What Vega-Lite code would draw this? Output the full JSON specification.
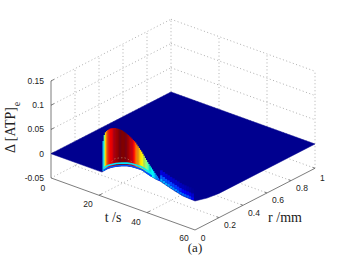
{"$schema":"https://vega.github.io/schema/vega-lite/v6.json","width":347,"height":259,"padding":0,"autosize":{"type":"none"},"background":"white","config":{"view":{"stroke":null}},
"data":{"values":[
{"kind":"grid","id":1,"t":0,"r":0.2,"z":-0.05},{"kind":"grid","id":1,"t":0,"r":0.2,"z":0.15},
{"kind":"grid","id":2,"t":0,"r":0.4,"z":-0.05},{"kind":"grid","id":2,"t":0,"r":0.4,"z":0.15},
{"kind":"grid","id":3,"t":0,"r":0.6,"z":-0.05},{"kind":"grid","id":3,"t":0,"r":0.6,"z":0.15},
{"kind":"grid","id":4,"t":0,"r":0.8,"z":-0.05},{"kind":"grid","id":4,"t":0,"r":0.8,"z":0.15},
{"kind":"grid","id":5,"t":0,"r":1,"z":-0.05},{"kind":"grid","id":5,"t":0,"r":1,"z":0.15},
{"kind":"grid","id":6,"t":0,"r":0,"z":-0.05},{"kind":"grid","id":6,"t":0,"r":1,"z":-0.05},
{"kind":"grid","id":7,"t":0,"r":0,"z":0},{"kind":"grid","id":7,"t":0,"r":1,"z":0},
{"kind":"grid","id":8,"t":0,"r":0,"z":0.05},{"kind":"grid","id":8,"t":0,"r":1,"z":0.05},
{"kind":"grid","id":9,"t":0,"r":0,"z":0.1},{"kind":"grid","id":9,"t":0,"r":1,"z":0.1},
{"kind":"grid","id":10,"t":0,"r":0,"z":0.15},{"kind":"grid","id":10,"t":0,"r":1,"z":0.15},
{"kind":"grid","id":11,"t":20,"r":1,"z":-0.05},{"kind":"grid","id":11,"t":20,"r":1,"z":0.15},
{"kind":"grid","id":12,"t":40,"r":1,"z":-0.05},{"kind":"grid","id":12,"t":40,"r":1,"z":0.15},
{"kind":"grid","id":13,"t":60,"r":1,"z":-0.05},{"kind":"grid","id":13,"t":60,"r":1,"z":0.15},
{"kind":"grid","id":14,"t":0,"r":1,"z":-0.05},{"kind":"grid","id":14,"t":60,"r":1,"z":-0.05},
{"kind":"grid","id":15,"t":0,"r":1,"z":0},{"kind":"grid","id":15,"t":60,"r":1,"z":0},
{"kind":"grid","id":16,"t":0,"r":1,"z":0.05},{"kind":"grid","id":16,"t":60,"r":1,"z":0.05},
{"kind":"grid","id":17,"t":0,"r":1,"z":0.1},{"kind":"grid","id":17,"t":60,"r":1,"z":0.1},
{"kind":"grid","id":18,"t":0,"r":1,"z":0.15},{"kind":"grid","id":18,"t":60,"r":1,"z":0.15},
{"kind":"grid","id":19,"t":20,"r":0,"z":-0.05},{"kind":"grid","id":19,"t":20,"r":1,"z":-0.05},
{"kind":"grid","id":20,"t":40,"r":0,"z":-0.05},{"kind":"grid","id":20,"t":40,"r":1,"z":-0.05},
{"kind":"grid","id":21,"t":0,"r":0.2,"z":-0.05},{"kind":"grid","id":21,"t":60,"r":0.2,"z":-0.05},
{"kind":"grid","id":22,"t":0,"r":0.4,"z":-0.05},{"kind":"grid","id":22,"t":60,"r":0.4,"z":-0.05},
{"kind":"grid","id":23,"t":0,"r":0.6,"z":-0.05},{"kind":"grid","id":23,"t":60,"r":0.6,"z":-0.05},
{"kind":"grid","id":24,"t":0,"r":0.8,"z":-0.05},{"kind":"grid","id":24,"t":60,"r":0.8,"z":-0.05},
{"kind":"axis","id":1,"t":0,"r":0,"z":-0.05},{"kind":"axis","id":1,"t":0,"r":0,"z":0.15},
{"kind":"axis","id":2,"t":0,"r":0,"z":-0.05},{"kind":"axis","id":2,"t":60,"r":0,"z":-0.05},
{"kind":"axis","id":3,"t":60,"r":0,"z":-0.05},{"kind":"axis","id":3,"t":60,"r":1,"z":-0.05},
{"kind":"axis","id":4,"t":0,"r":0,"z":0.15},{"kind":"axis","id":4,"t":0,"r":0.025,"z":0.15},
{"kind":"axis","id":5,"t":0,"r":0,"z":0.1},{"kind":"axis","id":5,"t":0,"r":0.025,"z":0.1},
{"kind":"axis","id":6,"t":0,"r":0,"z":0.05},{"kind":"axis","id":6,"t":0,"r":0.025,"z":0.05},
{"kind":"axis","id":7,"t":0,"r":0,"z":0},{"kind":"axis","id":7,"t":0,"r":0.025,"z":0},
{"kind":"axis","id":8,"t":20,"r":0,"z":-0.05},{"kind":"axis","id":8,"t":20,"r":0.025,"z":-0.05},
{"kind":"axis","id":9,"t":40,"r":0,"z":-0.05},{"kind":"axis","id":9,"t":40,"r":0.025,"z":-0.05},
{"kind":"axis","id":10,"t":60,"r":0.2,"z":-0.05},{"kind":"axis","id":10,"t":59,"r":0.2,"z":-0.05},
{"kind":"axis","id":11,"t":60,"r":0.4,"z":-0.05},{"kind":"axis","id":11,"t":59,"r":0.4,"z":-0.05},
{"kind":"axis","id":12,"t":60,"r":0.6,"z":-0.05},{"kind":"axis","id":12,"t":59,"r":0.6,"z":-0.05},
{"kind":"axis","id":13,"t":60,"r":0.8,"z":-0.05},{"kind":"axis","id":13,"t":59,"r":0.8,"z":-0.05},
{"kind":"axis","id":14,"t":60,"r":1,"z":-0.05},{"kind":"axis","id":14,"t":59,"r":1,"z":-0.05},
{"kind":"sheet","k":1,"t":0,"r":0,"z":0},{"kind":"sheet","k":2,"t":0,"r":1,"z":0},{"kind":"sheet","k":3,"t":60,"r":1,"z":0},{"kind":"sheet","k":4,"t":60,"r":0.2,"z":0},{"kind":"sheet","k":5,"t":60,"r":0.1,"z":0.003},{"kind":"sheet","k":6,"t":60,"r":0.05,"z":0.0065},{"kind":"sheet","k":7,"t":60,"r":0,"z":0.0097},{"kind":"sheet","k":8,"t":55,"r":0,"z":0.0111},{"kind":"sheet","k":9,"t":50.96,"r":0,"z":0.0163},{"kind":"sheet","k":10,"t":45.4,"r":0,"z":0.0249},{"kind":"sheet","k":11,"t":43.75,"r":0,"z":0.0254},{"kind":"sheet","k":12,"t":42,"r":0,"z":0.0276},{"kind":"sheet","k":13,"t":40,"r":0,"z":0.0307},{"kind":"sheet","k":14,"t":37.8,"r":0,"z":0.034},{"kind":"sheet","k":15,"t":35.4,"r":0,"z":0.0338},{"kind":"sheet","k":16,"t":33.6,"r":0,"z":0.0332},{"kind":"sheet","k":17,"t":31.7,"r":0,"z":0.0313},{"kind":"sheet","k":18,"t":29.5,"r":0,"z":0.0274},{"kind":"sheet","k":19,"t":27.1,"r":0,"z":0.0221},{"kind":"sheet","k":20,"t":25.3,"r":0,"z":0.0171},{"kind":"sheet","k":21,"t":23.75,"r":0,"z":0.012},{"kind":"sheet","k":22,"t":22.5,"r":0,"z":0.0066},{"kind":"sheet","k":23,"t":21.25,"r":0,"z":0},{"kind":"sheet","k":24,"t":0,"r":0,"z":0},
{"kind":"hump","t":21.75,"z":0.0651,"z2":0.003,"c":0.028},{"kind":"hump","t":22.25,"z":0.0783,"z2":0.0055,"c":0.05},{"kind":"hump","t":22.75,"z":0.0848,"z2":0.0076,"c":0.07},{"kind":"hump","t":23.25,"z":0.0884,"z2":0.0098,"c":0.079},{"kind":"hump","t":23.75,"z":0.0913,"z2":0.012,"c":0.084},{"kind":"hump","t":24.25,"z":0.0938,"z2":0.0136,"c":0.087},{"kind":"hump","t":24.75,"z":0.0961,"z2":0.0155,"c":0.089},{"kind":"hump","t":25.25,"z":0.0975,"z2":0.017,"c":0.09},{"kind":"hump","t":25.75,"z":0.0986,"z2":0.0184,"c":0.091},{"kind":"hump","t":26.25,"z":0.1,"z2":0.0198,"c":0.093},{"kind":"hump","t":26.75,"z":0.1008,"z2":0.0212,"c":0.095},{"kind":"hump","t":27.25,"z":0.101,"z2":0.0225,"c":0.097},{"kind":"hump","t":27.75,"z":0.1014,"z2":0.0237,"c":0.098},{"kind":"hump","t":28.25,"z":0.1014,"z2":0.025,"c":0.099},{"kind":"hump","t":28.75,"z":0.1012,"z2":0.0262,"c":0.1},{"kind":"hump","t":29.25,"z":0.101,"z2":0.0268,"c":0.1},{"kind":"hump","t":29.75,"z":0.101,"z2":0.028,"c":0.1},{"kind":"hump","t":30.25,"z":0.1,"z2":0.0287,"c":0.1},{"kind":"hump","t":30.75,"z":0.099,"z2":0.0296,"c":0.1},{"kind":"hump","t":31.25,"z":0.098,"z2":0.0305,"c":0.099},{"kind":"hump","t":31.75,"z":0.0967,"z2":0.0313,"c":0.098},{"kind":"hump","t":32.25,"z":0.0961,"z2":0.032,"c":0.097},{"kind":"hump","t":32.75,"z":0.0944,"z2":0.0325,"c":0.095},{"kind":"hump","t":33.25,"z":0.0928,"z2":0.033,"c":0.093},{"kind":"hump","t":33.75,"z":0.0913,"z2":0.0333,"c":0.091},{"kind":"hump","t":34.25,"z":0.0897,"z2":0.0336,"c":0.089},{"kind":"hump","t":34.75,"z":0.088,"z2":0.0337,"c":0.087},{"kind":"hump","t":35.25,"z":0.086,"z2":0.0338,"c":0.083},{"kind":"hump","t":35.75,"z":0.0831,"z2":0.0338,"c":0.079},{"kind":"hump","t":36.25,"z":0.0802,"z2":0.0339,"c":0.075},{"kind":"hump","t":36.75,"z":0.0775,"z2":0.0339,"c":0.072},{"kind":"hump","t":37.25,"z":0.0746,"z2":0.034,"c":0.068},{"kind":"hump","t":37.75,"z":0.0718,"z2":0.034,"c":0.065},{"kind":"hump","t":38.25,"z":0.0685,"z2":0.0335,"c":0.062},{"kind":"hump","t":38.75,"z":0.065,"z2":0.0325,"c":0.059},{"kind":"hump","t":39.25,"z":0.0614,"z2":0.0315,"c":0.056},{"kind":"hump","t":39.75,"z":0.0581,"z2":0.0308,"c":0.053},{"kind":"hump","t":40.25,"z":0.0546,"z2":0.03,"c":0.05},{"kind":"hump","t":40.75,"z":0.0515,"z2":0.0295,"c":0.047},{"kind":"hump","t":41.25,"z":0.0489,"z2":0.0285,"c":0.044},{"kind":"hump","t":41.75,"z":0.046,"z2":0.028,"c":0.041},{"kind":"hump","t":42.25,"z":0.0431,"z2":0.0273,"c":0.038},{"kind":"hump","t":42.75,"z":0.0404,"z2":0.0268,"c":0.034},{"kind":"hump","t":43.25,"z":0.0375,"z2":0.0262,"c":0.03},{"kind":"hump","t":43.75,"z":0.035,"z2":0.0254,"c":0.026},{"kind":"hump","t":44.25,"z":0.0326,"z2":0.0252,"c":0.022},{"kind":"hump","t":44.75,"z":0.0303,"z2":0.025,"c":0.018},{"kind":"hump","t":45.25,"z":0.0278,"z2":0.025,"c":0.014},
{"kind":"fade","t":46,"z":0.03,"z2":0.0245,"c":0.027},{"kind":"fade","t":47,"z":0.0282,"z2":0.0227,"c":0.026},{"kind":"fade","t":48,"z":0.0265,"z2":0.021,"c":0.025},{"kind":"fade","t":49,"z":0.025,"z2":0.0195,"c":0.024},{"kind":"fade","t":50,"z":0.0235,"z2":0.018,"c":0.023},{"kind":"fade","t":51,"z":0.0222,"z2":0.0167,"c":0.022},{"kind":"fade","t":52,"z":0.021,"z2":0.0155,"c":0.021},{"kind":"fade","t":53,"z":0.0195,"z2":0.014,"c":0.02},{"kind":"fade","t":54,"z":0.0182,"z2":0.0127,"c":0.019},{"kind":"fade","t":55,"z":0.0171,"z2":0.0116,"c":0.018},{"kind":"fade","t":56,"z":0.0168,"z2":0.0113,"c":0.017},{"kind":"fade","t":57,"z":0.0165,"z2":0.011,"c":0.016},{"kind":"fade","t":58,"z":0.0162,"z2":0.0107,"c":0.014},{"kind":"fade","t":59,"z":0.0159,"z2":0.0104,"c":0.012},
{"kind":"fade","t":46,"z":0.038,"z2":0.03,"c":0.017},{"kind":"fade","t":47,"z":0.0362,"z2":0.0282,"c":0.0165},{"kind":"fade","t":48,"z":0.0345,"z2":0.0265,"c":0.016},{"kind":"fade","t":49,"z":0.033,"z2":0.025,"c":0.0155},{"kind":"fade","t":50,"z":0.0315,"z2":0.0235,"c":0.015},{"kind":"fade","t":51,"z":0.0302,"z2":0.0222,"c":0.0145},{"kind":"fade","t":52,"z":0.029,"z2":0.021,"c":0.014},{"kind":"fade","t":53,"z":0.0275,"z2":0.0195,"c":0.0135},{"kind":"fade","t":54,"z":0.0262,"z2":0.0182,"c":0.013},{"kind":"fade","t":55,"z":0.0251,"z2":0.0171,"c":0.0125},{"kind":"fade","t":56,"z":0.0248,"z2":0.0168,"c":0.012},{"kind":"fade","t":57,"z":0.0245,"z2":0.0165,"c":0.0105},{"kind":"fade","t":58,"z":0.0242,"z2":0.0162,"c":0.009},{"kind":"fade","t":59,"z":0.0239,"z2":0.0159,"c":0.007},
{"kind":"fade","t":46,"z":0.048,"z2":0.038,"c":0.009},{"kind":"fade","t":47,"z":0.0462,"z2":0.0362,"c":0.0085},{"kind":"fade","t":48,"z":0.0445,"z2":0.0345,"c":0.008},{"kind":"fade","t":49,"z":0.043,"z2":0.033,"c":0.0075},{"kind":"fade","t":50,"z":0.0415,"z2":0.0315,"c":0.007},{"kind":"fade","t":51,"z":0.0402,"z2":0.0302,"c":0.0065},{"kind":"fade","t":52,"z":0.039,"z2":0.029,"c":0.006},{"kind":"fade","t":53,"z":0.0375,"z2":0.0275,"c":0.0055},{"kind":"fade","t":54,"z":0.0362,"z2":0.0262,"c":0.005},{"kind":"fade","t":55,"z":0.0351,"z2":0.0251,"c":0.0045},{"kind":"fade","t":56,"z":0.0348,"z2":0.0248,"c":0.004},{"kind":"fade","t":57,"z":0.0345,"z2":0.0245,"c":0.003},{"kind":"fade","t":58,"z":0.0342,"z2":0.0242,"c":0.002},{"kind":"fade","t":59,"z":0.0339,"z2":0.0239,"c":0.001},
{"kind":"rim","id":1,"c":0.034,"k":1,"t":21.9,"z":0.0095},{"kind":"rim","id":1,"c":0.034,"k":2,"t":22.5,"z":0.0126},{"kind":"rim","id":1,"c":0.034,"k":3,"t":23.75,"z":0.018},{"kind":"rim","id":1,"c":0.034,"k":4,"t":25.3,"z":0.0231},{"kind":"rim","id":1,"c":0.034,"k":5,"t":27.1,"z":0.0281},{"kind":"rim","id":1,"c":0.034,"k":6,"t":29.5,"z":0.0334},{"kind":"rim","id":1,"c":0.034,"k":7,"t":31.7,"z":0.0373},{"kind":"rim","id":1,"c":0.034,"k":8,"t":33.6,"z":0.0392},{"kind":"rim","id":1,"c":0.034,"k":9,"t":35.4,"z":0.0398},{"kind":"rim","id":1,"c":0.034,"k":10,"t":37.8,"z":0.04},{"kind":"rim","id":1,"c":0.034,"k":11,"t":40,"z":0.0367},{"kind":"rim","id":1,"c":0.034,"k":12,"t":42,"z":0.0336},
{"kind":"rim","id":2,"c":0.016,"k":1,"t":21.9,"z":0.0045},{"kind":"rim","id":2,"c":0.016,"k":2,"t":22.5,"z":0.0076},{"kind":"rim","id":2,"c":0.016,"k":3,"t":23.75,"z":0.013},{"kind":"rim","id":2,"c":0.016,"k":4,"t":25.3,"z":0.0181},{"kind":"rim","id":2,"c":0.016,"k":5,"t":27.1,"z":0.0231},{"kind":"rim","id":2,"c":0.016,"k":6,"t":29.5,"z":0.0284},{"kind":"rim","id":2,"c":0.016,"k":7,"t":31.7,"z":0.0323},{"kind":"rim","id":2,"c":0.016,"k":8,"t":33.6,"z":0.0342},{"kind":"rim","id":2,"c":0.016,"k":9,"t":35.4,"z":0.0348},{"kind":"rim","id":2,"c":0.016,"k":10,"t":37.8,"z":0.035},{"kind":"rim","id":2,"c":0.016,"k":11,"t":40,"z":0.0317},{"kind":"rim","id":2,"c":0.016,"k":12,"t":42,"z":0.0286},
{"kind":"ghost","k":1,"t":25.3,"z":0.0288},{"kind":"ghost","k":2,"t":26.7,"z":0.0375},{"kind":"ghost","k":3,"t":30.1,"z":0.0455},{"kind":"ghost","k":4,"t":33.6,"z":0.0434},{"kind":"ghost","k":5,"t":36,"z":0.036},
{"kind":"zlab","label":"0.15","t":0,"r":0,"z":0.15},{"kind":"zlab","label":"0.1","t":0,"r":0,"z":0.1},{"kind":"zlab","label":"0.05","t":0,"r":0,"z":0.05},{"kind":"zlab","label":"0","t":0,"r":0,"z":0},{"kind":"zlab","label":"-0.05","t":0,"r":0,"z":-0.05},
{"kind":"tlab","label":"0","t":1.2,"r":0,"z":-0.05},{"kind":"tlab","label":"20","t":20,"r":0,"z":-0.05},{"kind":"tlab","label":"40","t":40,"r":0,"z":-0.05},{"kind":"tlab","label":"60","t":60,"r":0,"z":-0.047},
{"kind":"rlab","label":"0","t":60,"r":-0.025,"z":-0.047},{"kind":"rlab","label":"0.2","t":60,"r":0.2,"z":-0.05},{"kind":"rlab","label":"0.4","t":60,"r":0.4,"z":-0.05},{"kind":"rlab","label":"0.6","t":60,"r":0.6,"z":-0.05},{"kind":"rlab","label":"0.8","t":60,"r":0.8,"z":-0.05},{"kind":"rlab","label":"1","t":60,"r":0.97,"z":-0.05},
{"kind":"title","label":"t /s","t":25.83,"r":0,"z":-0.0864},{"kind":"title","label":"r /mm","t":60,"r":0.75,"z":-0.1208},{"kind":"tag","label":"(a)","t":60,"r":0,"z":-0.0865},
{"kind":"ztitle","label":"Δ [ATP]","t":-16.7,"r":0,"z":0.019},{"kind":"zsub","label":"e","t":-14.2,"r":0,"z":0.0771}
]},
"transform":[
{"calculate":"51+2.4*datum.t+120*(datum.r||0)","as":"sx"},
{"calculate":"153.7+0.867*datum.t-61.7*(datum.r||0)-485*datum.z","as":"sy"},
{"calculate":"153.7+0.867*datum.t-61.7*(datum.r||0)-485*datum.z2","as":"sy2"}
],
"encoding":{
"x":{"field":"sx","type":"quantitative","scale":{"domain":[0,347],"range":[0,347]},"axis":null},
"y":{"field":"sy","type":"quantitative","scale":{"domain":[0,259],"range":[0,259]},"axis":null}
},
"layer":[
{"transform":[{"filter":"datum.kind=='grid'"}],"mark":{"type":"line","stroke":"#9a9a9a","strokeWidth":0.8,"strokeDash":[1,2.5]},"encoding":{"detail":{"field":"id"}}},
{"transform":[{"filter":"datum.kind=='axis'"}],"mark":{"type":"line","stroke":"#6e6e6e","strokeWidth":0.9},"encoding":{"detail":{"field":"id"}}},
{"transform":[{"filter":"datum.kind=='sheet'"}],"mark":{"type":"line","stroke":"#00008f","strokeWidth":0.5,"fill":"#00008f"},"encoding":{"order":{"field":"k"}}},
{"transform":[{"filter":"datum.kind=='fade'"}],"mark":{"type":"rule","strokeWidth":2.6},"encoding":{"y2":{"field":"sy2"},"color":{"field":"c","type":"quantitative","legend":null,"scale":{"domain":[0,0.0125,0.0375,0.0625,0.0875,0.1],"range":["#00008f","#0000ff","#00ffff","#ffff00","#ff0000","#800000"],"clamp":true}}}},
{"transform":[{"filter":"datum.kind=='hump'"}],"mark":{"type":"rule","strokeWidth":1.5},"encoding":{"y2":{"field":"sy2"},"color":{"field":"c","type":"quantitative","legend":null}}},
{"transform":[{"filter":"datum.kind=='rim'"}],"mark":{"type":"line","strokeWidth":1.6,"interpolate":"monotone"},"encoding":{"detail":{"field":"id"},"order":{"field":"k"},"color":{"field":"c","type":"quantitative","legend":null}}},
{"transform":[{"filter":"datum.kind=='ghost'"}],"mark":{"type":"line","stroke":"#b58a6e","strokeWidth":0.8,"strokeDash":[1.5,2],"opacity":0.8,"interpolate":"monotone"},"encoding":{"order":{"field":"k"}}},
{"transform":[{"filter":"datum.kind=='zlab'"}],"mark":{"type":"text","font":"Liberation Sans","fontSize":8.5,"align":"right","baseline":"middle","dx":-7,"color":"#222"},"encoding":{"text":{"field":"label"}}},
{"transform":[{"filter":"datum.kind=='tlab'"}],"mark":{"type":"text","font":"Liberation Sans","fontSize":8.5,"align":"center","baseline":"middle","dx":-11,"dy":9,"color":"#222"},"encoding":{"text":{"field":"label"}}},
{"transform":[{"filter":"datum.kind=='rlab'"}],"mark":{"type":"text","font":"Liberation Sans","fontSize":8.5,"align":"center","baseline":"middle","dx":11,"dy":7.5,"color":"#222"},"encoding":{"text":{"field":"label"}}},
{"transform":[{"filter":"datum.kind=='title'"}],"mark":{"type":"text","font":"Liberation Serif","fontSize":14,"align":"center","baseline":"middle","color":"#222"},"encoding":{"text":{"field":"label"}}},
{"transform":[{"filter":"datum.kind=='tag'"}],"mark":{"type":"text","font":"Liberation Serif","fontSize":13,"align":"center","baseline":"middle","color":"#222"},"encoding":{"text":{"field":"label"}}},
{"transform":[{"filter":"datum.kind=='ztitle'"}],"mark":{"type":"text","font":"Liberation Serif","fontSize":14,"align":"center","baseline":"middle","angle":270,"color":"#222"},"encoding":{"text":{"field":"label"}}},
{"transform":[{"filter":"datum.kind=='zsub'"}],"mark":{"type":"text","font":"Liberation Serif","fontSize":10,"align":"center","baseline":"middle","angle":270,"color":"#222"},"encoding":{"text":{"field":"label"}}}
]}
